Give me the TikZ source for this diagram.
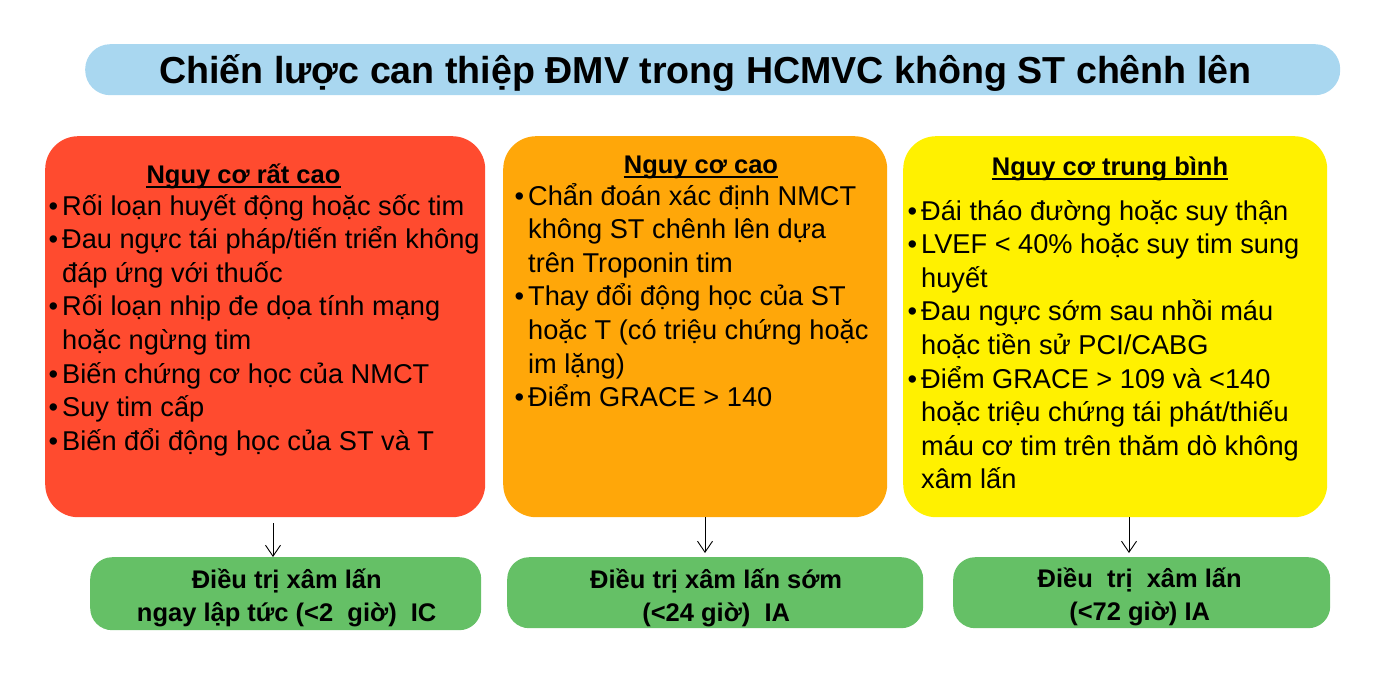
\documentclass[tikz,border=0pt]{standalone}
\usepackage{fontspec}
\setmainfont{Liberation Sans}
\usetikzlibrary{arrows.meta,calc}
\definecolor{titlebg}{HTML}{A9D7F0}
\definecolor{redbg}{HTML}{FF4B2F}
\definecolor{orangebg}{HTML}{FFA709}
\definecolor{yellowbg}{HTML}{FFF100}
\definecolor{greenbg}{HTML}{65C066}
\newcommand{\bul}{\leavevmode\llap{•\hspace{4pt}}}
\newcommand{\itemfont}{\fontsize{27.2}{33.6}\selectfont}
\begin{document}
\begin{tikzpicture}[x=1pt,y=-1pt,
  riskbox/.style={draw=none, rounded corners=33pt, anchor=north west, inner sep=0pt},
  treatbox/.style={draw=none, fill=greenbg, rounded corners=22pt, anchor=north west, inner sep=0pt},
  header/.style={anchor=base, inner sep=0pt, font=\fontsize{25.5}{30}\selectfont\bfseries},
  items/.style={anchor=base west, inner sep=0pt},
  treattext/.style={align=center, inner sep=0pt, font=\fontsize{25.5}{33}\selectfont\bfseries},
  arr/.style={-{Straight Barb[length=11pt,width=15pt]}, line width=0.9pt, black},
  uline/.style={line width=1.6pt, black}
]
\useasboundingbox (0,0) rectangle (1379,685);

% title
\node[draw=none, fill=titlebg, rounded corners=25pt, minimum width=1255pt, minimum height=51pt, anchor=north west, inner sep=0pt] (titlebar) at (85,44) {};
\node[anchor=base, inner sep=0pt, font=\fontsize{37.6}{44}\selectfont\bfseries] (title) at (705.5,84) {Chiến lược can thiệp ĐMV trong HCMVC không ST chênh lên};

% risk boxes
\node[riskbox, fill=redbg, minimum width=440pt, minimum height=381pt] (r1) at (45,136) {};
\node[riskbox, fill=orangebg, minimum width=384pt, minimum height=381pt] (r2) at (503,136) {};
\node[riskbox, fill=yellowbg, minimum width=424pt, minimum height=381pt] (r3) at (903,136) {};

% headers
\node[header] (h1) at (243.5,183) {Nguy cơ rất cao};
\node[header] (h2) at (701,173) {Nguy cơ cao};
\node[header] (h3) at (1110,175) {Nguy cơ trung bình};
\draw[uline] ($(h1.base west)+(0,4)$) -- ($(h1.base east)+(0,4)$);
\draw[uline] ($(h2.base west)+(0,4)$) -- ($(h2.base east)+(0,4)$);
\draw[uline] ($(h3.base west)+(0,4)$) -- ($(h3.base east)+(0,4)$);

% items
\node[items] (t1) at (62,215) {\parbox[t]{430pt}{\itemfont
\bul Rối loạn huyết động hoặc sốc tim\\
\bul Đau ngực tái pháp/tiến triển không\\
đáp ứng với thuốc\\
\bul Rối loạn nhịp đe dọa tính mạng\\
hoặc ngừng tim\\
\bul Biến chứng cơ học của NMCT\\
\bul Suy tim cấp\\
\bul Biến đổi động học của ST và T}};

\node[items] (t2) at (528,205) {\parbox[t]{370pt}{\itemfont
\bul Chẩn đoán xác định NMCT\\
không ST chênh lên dựa\\
trên Troponin tim\\
\bul Thay đổi động học của ST\\
hoặc T (có triệu chứng hoặc\\
im lặng)\\
\bul Điểm GRACE > 140}};

\node[items] (t3) at (921,220) {\parbox[t]{410pt}{\itemfont
\bul Đái tháo đường hoặc suy thận\\
\bul LVEF < 40\% hoặc suy tim sung\\
huyết\\
\bul Đau ngực sớm sau nhồi máu\\
hoặc tiền sử PCI/CABG\\
\bul Điểm GRACE > 109 và <140\\
hoặc triệu chứng tái phát/thiếu\\
máu cơ tim trên thăm dò không\\
xâm lấn}};

% treatment boxes
\node[treatbox, minimum width=391pt, minimum height=73pt] (g1) at (90,557) {};
\node[treatbox, minimum width=416pt, minimum height=71pt] (g2) at (507,557) {};
\node[treatbox, minimum width=377pt, minimum height=71pt] (g3) at (953,557) {};
\node[treattext] (gt1) at ($(g1.center)+(1,4)$) {Điều trị xâm lấn\\ngay lập tức (<2~~giờ)~~IC};
\node[treattext] (gt2) at ($(g2.center)+(1,5)$) {Điều trị xâm lấn sớm\\(<24 giờ)~~IA};
\node[treattext] (gt3) at ($(g3.center)+(-2,4)$) {Điều~~trị~~xâm lấn\\(<72 giờ)~IA};

% arrows
\coordinate (a1) at (273,0);
\coordinate (a2) at (705,0);
\coordinate (a3) at (1129,0);
\draw[arr] ($(a1 |- r1.south)+(0,6)$) -- (a1 |- g1.north);
\draw[arr] (a2 |- r2.south) -- ($(a2 |- g2.north)+(0,-4)$);
\draw[arr] (a3 |- r3.south) -- ($(a3 |- g3.north)+(0,-4)$);
\end{tikzpicture}
\end{document}
